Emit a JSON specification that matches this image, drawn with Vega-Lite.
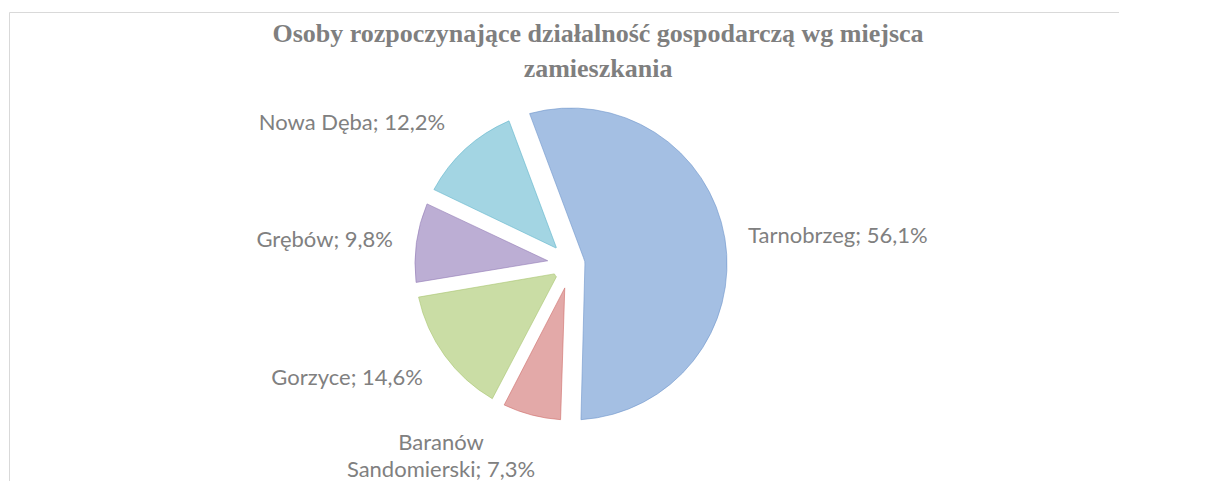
{
  "$schema": "https://vega.github.io/schema/vega-lite/v6.json",
  "width": 1124,
  "height": 504,
  "autosize": {"type": "none"},
  "padding": {"left": 9, "top": 12, "right": -14, "bottom": -35},
  "background": "white",
  "view": {"stroke": "#d9d9d9", "strokeWidth": 1},
  "config": {"view": {"stroke": "#d9d9d9", "strokeWidth": 1}},
  "title": {
    "text": ["Osoby rozpoczynające działalność gospodarczą wg miejsca", "zamieszkania"],
    "font": "Liberation Serif",
    "fontSize": 26,
    "fontWeight": "bold",
    "color": "#7f7f7f",
    "anchor": "middle",
    "baseline": "alphabetic",
    "lineHeight": 35,
    "offset": -91,
    "dx": 27
  },
  "data": {
    "values": [
      {"idx": 1, "name": "Tarnobrzeg", "value": 56.1, "label": "Tarnobrzeg; 56,1%"},
      {"idx": 2, "name": "Baranów Sandomierski", "value": 7.3, "label": "Baranów\nSandomierski; 7,3%"},
      {"idx": 3, "name": "Gorzyce", "value": 14.6, "label": "Gorzyce; 14,6%"},
      {"idx": 4, "name": "Grębów", "value": 9.8, "label": "Grębów; 9,8%"},
      {"idx": 5, "name": "Nowa Dęba", "value": 12.2, "label": "Nowa Dęba; 12,2%"}
    ]
  },
  "encoding": {
    "theta": {"field": "value", "type": "quantitative", "stack": true, "scale": {"range": [-0.35779, 5.9254]}},
    "order": {"field": "idx", "type": "quantitative"},
    "detail": {"field": "name", "type": "nominal"}
  },
  "layer": [
    {
      "mark": {"type": "arc", "outerRadius": 156, "innerRadius": 14, "padAngle": 0.1779, "strokeWidth": 1, "strokeOpacity": 0.6},
      "encoding": {
        "fill": {"field": "name", "type": "nominal", "legend": null, "scale": {"domain": ["Tarnobrzeg", "Baranów Sandomierski", "Gorzyce", "Grębów", "Nowa Dęba"], "range": ["#a4bfe3", "#e3a9a8", "#cadda5", "#bcaed4", "#a3d5e3"]}},
        "stroke": {"field": "name", "type": "nominal", "legend": null, "scale": {"domain": ["Tarnobrzeg", "Baranów Sandomierski", "Gorzyce", "Grębów", "Nowa Dęba"], "range": ["#6f96cc", "#cf6e6b", "#a9c46f", "#927bb5", "#63b5cc"]}},
        "opacity": {"condition": {"test": "datum.name === 'Tarnobrzeg'", "value": 1}, "value": 0}
      }
    },
    {
      "mark": {"type": "arc", "outerRadius": 156, "innerRadius": 24.7, "padAngle": 0.0818, "strokeWidth": 1, "strokeOpacity": 0.6},
      "encoding": {
        "fill": {"field": "name", "type": "nominal", "legend": null},
        "stroke": {"field": "name", "type": "nominal", "legend": null},
        "opacity": {"condition": {"test": "datum.name === 'Baranów Sandomierski'", "value": 1}, "value": 0}
      }
    },
    {
      "mark": {"type": "arc", "outerRadius": 156, "innerRadius": 19.4, "padAngle": 0.0885, "strokeWidth": 1, "strokeOpacity": 0.6},
      "encoding": {
        "fill": {"field": "name", "type": "nominal", "legend": null},
        "stroke": {"field": "name", "type": "nominal", "legend": null},
        "opacity": {"condition": {"test": "datum.name === 'Gorzyce'", "value": 1}, "value": 0}
      }
    },
    {
      "mark": {"type": "arc", "outerRadius": 156, "innerRadius": 23.5, "padAngle": 0.1008, "strokeWidth": 1, "strokeOpacity": 0.6},
      "encoding": {
        "fill": {"field": "name", "type": "nominal", "legend": null},
        "stroke": {"field": "name", "type": "nominal", "legend": null},
        "opacity": {"condition": {"test": "datum.name === 'Grębów'", "value": 1}, "value": 0}
      }
    },
    {
      "mark": {"type": "arc", "outerRadius": 156, "innerRadius": 22, "padAngle": 0.101, "strokeWidth": 1, "strokeOpacity": 0.6},
      "encoding": {
        "fill": {"field": "name", "type": "nominal", "legend": null},
        "stroke": {"field": "name", "type": "nominal", "legend": null},
        "opacity": {"condition": {"test": "datum.name === 'Nowa Dęba'", "value": 1}, "value": 0}
      }
    },
    {
      "mark": {"type": "text", "radius": 175, "align": "left", "baseline": "alphabetic", "dx": 4.4, "dy": 7.9, "font": "Lato", "fontSize": 22, "fill": "#808080"},
      "encoding": {
        "text": {"field": "label"},
        "opacity": {"condition": {"test": "datum.name === 'Tarnobrzeg'", "value": 1}, "value": 0}
      }
    },
    {
      "mark": {"type": "text", "radius": 175, "align": "center", "baseline": "alphabetic", "dx": -85.9, "dy": 16.7, "font": "Lato", "fontSize": 22, "fill": "#808080", "lineBreak": "\n", "lineHeight": 27},
      "encoding": {
        "text": {"field": "label"},
        "opacity": {"condition": {"test": "datum.name === 'Baranów Sandomierski'", "value": 1}, "value": 0}
      }
    },
    {
      "mark": {"type": "text", "radius": 175, "align": "right", "baseline": "alphabetic", "dx": -6.4, "dy": 18.1, "font": "Lato", "fontSize": 22, "fill": "#808080"},
      "encoding": {
        "text": {"field": "label"},
        "opacity": {"condition": {"test": "datum.name === 'Gorzyce'", "value": 1}, "value": 0}
      }
    },
    {
      "mark": {"type": "text", "radius": 175, "align": "right", "baseline": "alphabetic", "dx": -4.7, "dy": 7, "font": "Lato", "fontSize": 22, "fill": "#808080"},
      "encoding": {
        "text": {"field": "label"},
        "opacity": {"condition": {"test": "datum.name === 'Grębów'", "value": 1}, "value": 0}
      }
    },
    {
      "mark": {"type": "text", "radius": 175, "align": "right", "baseline": "alphabetic", "dx": -7.8, "dy": -5, "font": "Lato", "fontSize": 22, "fill": "#808080"},
      "encoding": {
        "text": {"field": "label"},
        "opacity": {"condition": {"test": "datum.name === 'Nowa Dęba'", "value": 1}, "value": 0}
      }
    }
  ]
}
